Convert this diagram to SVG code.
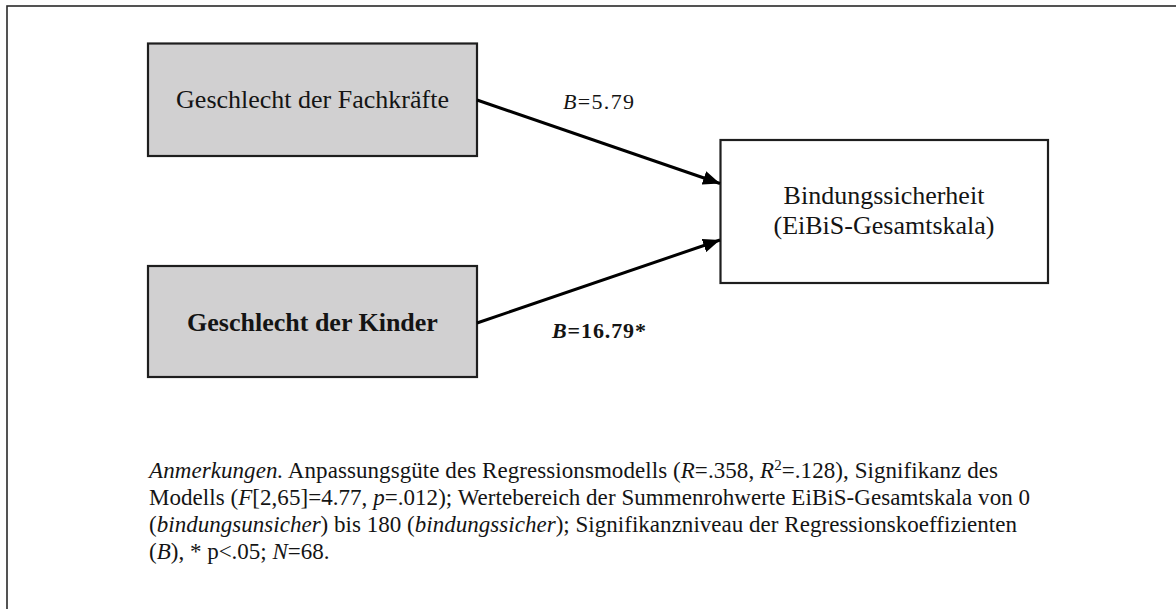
<svg xmlns="http://www.w3.org/2000/svg" width="1176" height="609" viewBox="0 0 1176 609">
  <style>
    .frame { fill: #ffffff; stroke: #2a2a2a; stroke-width: 1.6; }
    .pred { fill: #d1d0d1; stroke: #1e1e1e; stroke-width: 2.2; }
    .outcome { fill: #ffffff; stroke: #1e1e1e; stroke-width: 2.2; }
    .lbl { font-family: "Liberation Serif", "Times New Roman", serif; font-size: 26px; fill: #141414; text-anchor: middle; }
    .coef { font-family: "Liberation Serif", "Times New Roman", serif; font-size: 22px; fill: #141414; }
    .note { font-family: "Liberation Serif", "Times New Roman", serif; font-size: 23px; fill: #141414; }
    .it { font-style: italic; }
    .edge { stroke: #000000; stroke-width: 3; fill: none; }
  </style>
  <defs>
    <marker id="arrow" markerUnits="userSpaceOnUse" markerWidth="18" markerHeight="14" refX="17" refY="7" orient="auto">
      <path d="M0,0 L17,7 L0,14 Z" fill="#000000"/>
    </marker>
  </defs>

  <!-- page frame (right and bottom edges run off the canvas) -->
  <rect class="frame" x="7" y="6" width="1200" height="700"/>

  <g id="node-fachkraefte">
    <rect class="pred" x="148" y="43.5" width="329" height="112.5"/>
    <text class="lbl" x="312.5" y="108">Geschlecht der Fachkräfte</text>
  </g>

  <g id="node-kinder">
    <rect class="pred" x="148" y="266" width="329" height="111"/>
    <text class="lbl" x="312.5" y="331" font-weight="bold">Geschlecht der Kinder</text>
  </g>

  <g id="node-bindung">
    <rect class="outcome" x="720.5" y="140" width="327.5" height="143"/>
    <text class="lbl" x="884" y="204">Bindungssicherheit</text>
    <text class="lbl" x="884" y="234">(EiBiS-Gesamtskala)</text>
  </g>

  <g id="connectors">
    <line class="edge" x1="477" y1="100" x2="720" y2="183.5" marker-end="url(#arrow)"/>
    <line class="edge" x1="477" y1="323" x2="720" y2="240" marker-end="url(#arrow)"/>
    <text class="coef" x="563" y="109" textLength="71" lengthAdjust="spacing"><tspan class="it">B</tspan>=5.79</text>
    <text class="coef" x="552" y="338" font-weight="bold" textLength="94" lengthAdjust="spacing"><tspan class="it">B</tspan>=16.79*</text>
  </g>

  <g id="notes">
    <text class="note" x="149" y="478" textLength="849" lengthAdjust="spacing"><tspan class="it">Anmerkungen.</tspan> Anpassungsgüte des Regressionsmodells (<tspan class="it">R</tspan>=.358, <tspan class="it">R</tspan><tspan dy="-8" font-size="15">2</tspan><tspan dy="8">=.128), Signifikanz des</tspan></text>
    <text class="note" x="149" y="505" textLength="881" lengthAdjust="spacing">Modells (<tspan class="it">F</tspan>[2,65]=4.77, <tspan class="it">p</tspan>=.012); Wertebereich der Summenrohwerte EiBiS-Gesamtskala von 0</text>
    <text class="note" x="149" y="532" textLength="868" lengthAdjust="spacing">(<tspan class="it">bindungsunsicher</tspan>) bis 180 (<tspan class="it">bindungssicher</tspan>); Signifikanzniveau der Regressionskoeffizienten</text>
    <text class="note" x="149" y="559">(<tspan class="it">B</tspan>), * p&lt;.05; <tspan class="it">N</tspan>=68.</text>
  </g>
</svg>
